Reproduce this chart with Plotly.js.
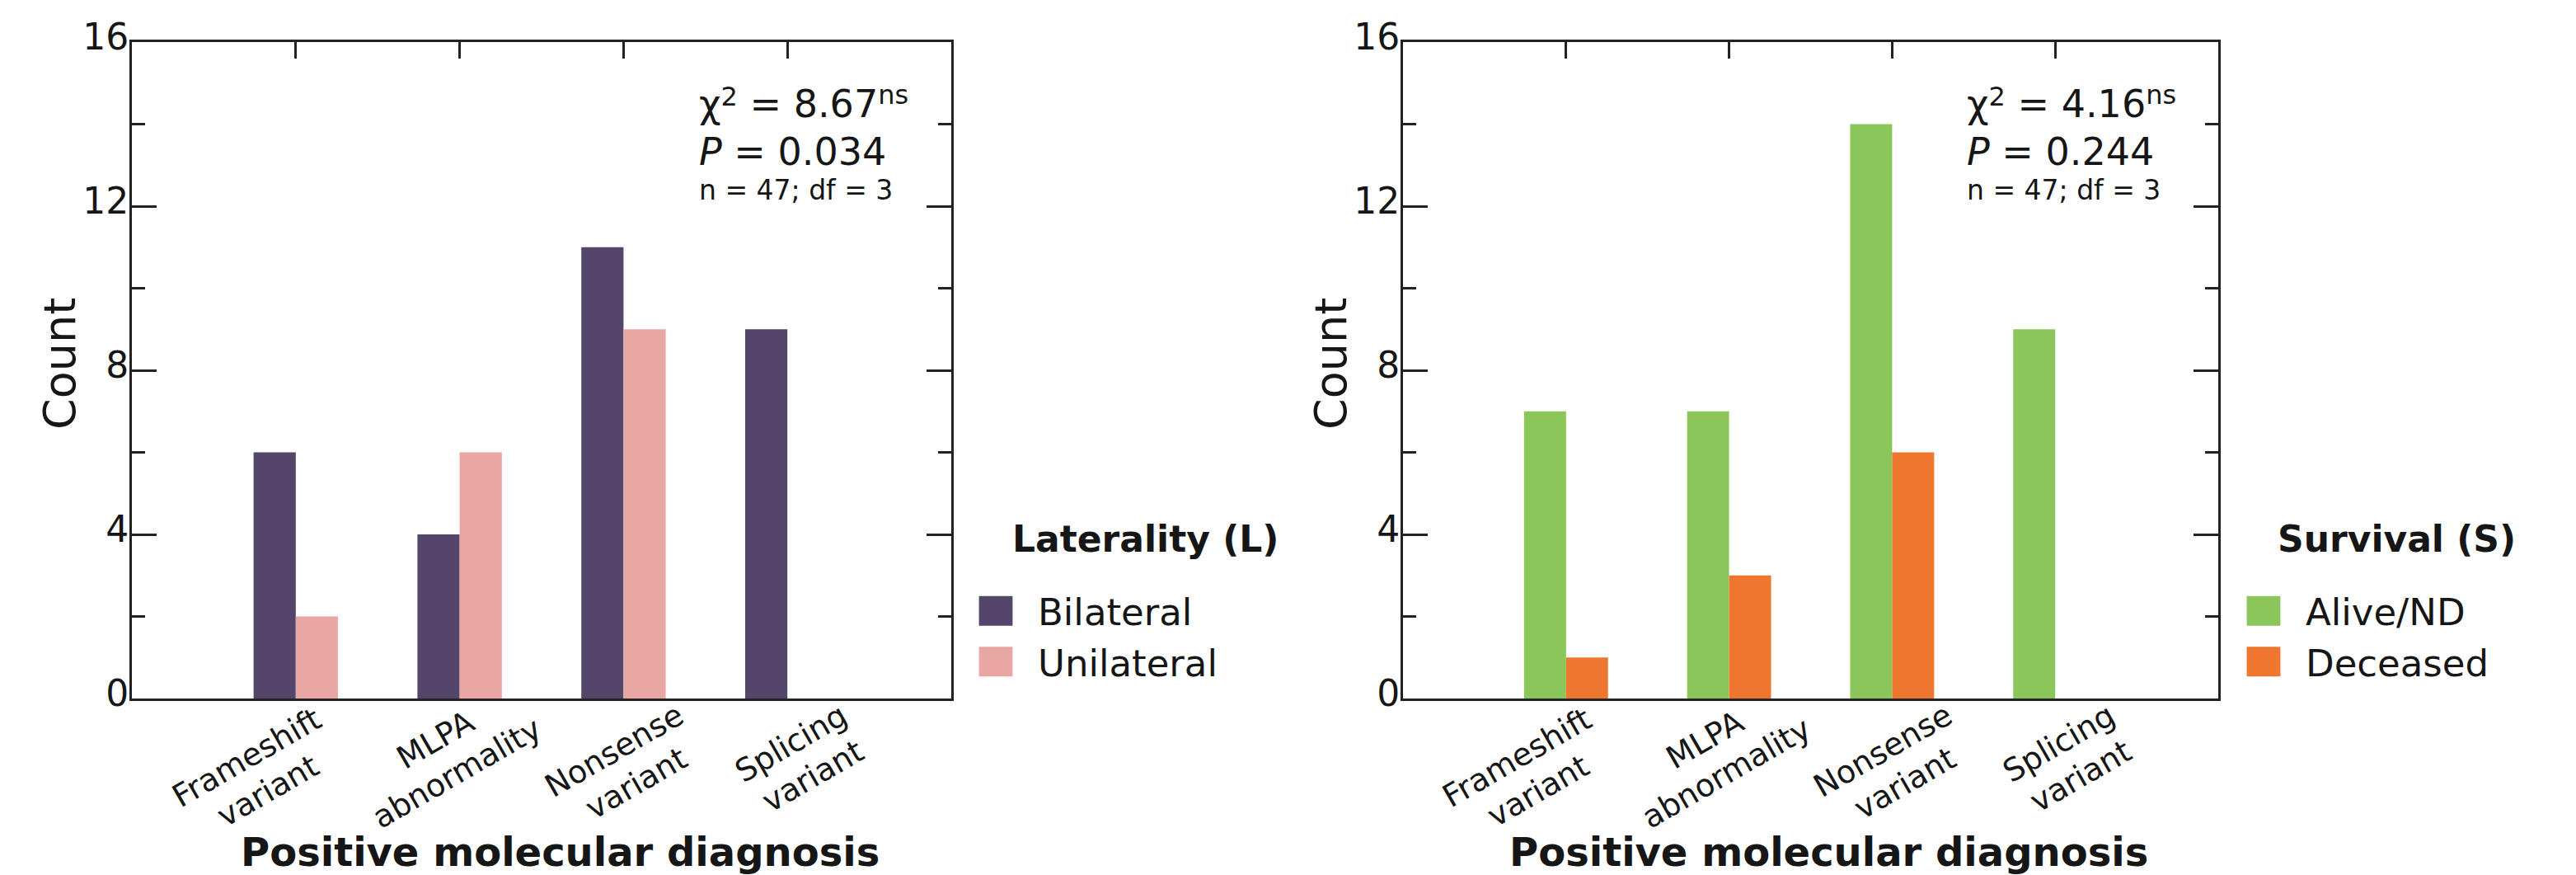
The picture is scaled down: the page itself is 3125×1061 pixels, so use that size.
<!DOCTYPE html>
<html>
<head>
<meta charset="utf-8">
<script src="https://cdn.plot.ly/plotly-3.0.1.min.js"></script>
<style>
html,body{margin:0;padding:0;background:#fff;}
#chart{width:3125px;height:1061px;}
#chart .legendpoints path{transform:translate(51px,0px) scale(3.4,3);}
</style>
</head>
<body>
<div id="chart"></div>
<script>
// ---- data ----
const categories = ['Frameshift variant', 'MLPA abnormality', 'Nonsense variant', 'Splicing variant'];
const tickLines = [['Frameshift', 'variant'], ['MLPA', 'abnormality'], ['Nonsense', 'variant'], ['Splicing', 'variant']];
const bilateral = [6, 4, 11, 9];
const unilateral = [2, 6, 9, 0];
const aliveND = [7, 7, 14, 9];
const deceased = [1, 3, 6, 0];
const yTicks = [0, 4, 8, 12, 16];
const chiLeft = '8.67', pLeft = '0.034';
const chiRight = '4.16', pRight = '0.244';
const nText = 'n = 47; df = 3';

// ---- styles ----
const FONT = 'DejaVu Sans';
const INK = '#161616';
const AX = '#222222';
const colBilateral = '#54456A';
const colUnilateral = '#E8A7A3';
const colAlive = '#8BC65B';
const colDeceased = '#EE762E';
// label block offsets (px) from its tick / the x axis line
const labelDx = [-47, -16, 2, 18];
const labelDy = [92, 70, 83, 74];
const lineStep = [13.25, 20.25];

const W = 3125, H = 1061;
const AXIS_Y = 847;
const px = v => v / W;
const py = v => 1 - v / H;
const sup = (t, shift) => '<span style="font-size:32px;baseline-shift:' + shift + 'px">' + t + '</span>';
const chiLine = v => 'χ' + sup('2', 14) + ' = ' + v + sup('ns', 16);
const pLine = v => '<i>P</i> = ' + v;

const traces = [
  {type: 'bar', name: 'Bilateral', x: categories, y: bilateral, xaxis: 'x', yaxis: 'y',
   marker: {color: colBilateral, line: {width: 0}}, legend: 'legend'},
  {type: 'bar', name: 'Unilateral', x: categories, y: unilateral, xaxis: 'x', yaxis: 'y',
   marker: {color: colUnilateral, line: {width: 0}}, legend: 'legend'},
  {type: 'bar', name: 'Alive/ND', x: categories, y: aliveND, xaxis: 'x2', yaxis: 'y2',
   marker: {color: colAlive, line: {width: 0}}, legend: 'legend2'},
  {type: 'bar', name: 'Deceased', x: categories, y: deceased, xaxis: 'x2', yaxis: 'y2',
   marker: {color: colDeceased, line: {width: 0}}, legend: 'legend2'}
];

function xAxis(domain, anchor) {
  return {
    domain: domain, anchor: anchor, type: 'category', range: [-1, 4],
    side: 'top', showticklabels: false, ticks: 'inside', ticklen: 20, tickwidth: 3, tickcolor: AX,
    showline: true, linecolor: AX, linewidth: 3, mirror: true, showgrid: false, zeroline: false,
    fixedrange: true
  };
}
function yAxis(anchor) {
  return {
    domain: [py(AXIS_Y), py(51)], anchor: anchor, range: [0, 16], tickvals: yTicks,
    ticks: 'inside', ticklen: 30, tickwidth: 3, tickcolor: AX,
    minor: {dtick: 2, tick0: 0, ticks: 'inside', ticklen: 16, tickwidth: 3, tickcolor: AX},
    showline: true, linecolor: AX, linewidth: 3, mirror: 'ticks', showgrid: false, zeroline: false,
    tickfont: {family: FONT, size: 44, color: INK},
    ticklabelstandoff: -8, ticklabelshift: -6,
    fixedrange: true
  };
}

const annotations = [];
function addPanel(xref, stats, legendTitle, legendX, countX) {
  tickLines.forEach((lines, i) => {
    lines.forEach((t, j) => {
      const s = j === 0 ? -1 : 1;
      annotations.push({xref: xref, yref: 'paper', x: categories[i],
        y: py(AXIS_Y + labelDy[i] + s * lineStep[1]), xshift: labelDx[i] + s * lineStep[0],
        text: t, textangle: -30, xanchor: 'center', yanchor: 'middle', showarrow: false,
        font: {family: FONT, size: 38, color: INK}});
    });
  });
  annotations.push({xref: xref + ' domain', yref: 'paper', x: 0.5, xshift: 22, y: py(1033),
    text: 'Positive molecular diagnosis', showarrow: false, xanchor: 'center', yanchor: 'middle',
    font: {family: FONT, size: 48, color: INK, weight: 'bold'}});
  annotations.push({xref: 'paper', yref: 'paper', x: countX, y: py(441), text: 'Count',
    textangle: -90, showarrow: false, xanchor: 'center', yanchor: 'middle',
    font: {family: FONT, size: 54, color: INK}});
  const ys = [py(155), py(212.5), py(252)];
  const sizes = [46, 46, 33];
  stats.forEach((s, i) => {
    annotations.push({xref: xref + ' domain', yref: 'paper', x: 0.69, y: ys[i], text: s,
      xanchor: 'left', yanchor: 'bottom', showarrow: false,
      font: {family: FONT, size: sizes[i], color: INK}});
  });
  annotations.push({xref: 'paper', yref: 'paper', x: legendX, y: py(653), text: legendTitle,
    xanchor: 'left', yanchor: 'middle', showarrow: false,
    font: {family: FONT, size: 44, color: INK, weight: 'bold'}});
}
addPanel('x', [chiLine(chiLeft), pLine(pLeft), nText], 'Laterality (L)', px(1226), px(72));
addPanel('x2', [chiLine(chiRight), pLine(pRight), nText], 'Survival (S)', px(2761), px(1614));

function legendCfg(x) {
  return {x: x, xanchor: 'left', y: py(705), yanchor: 'top', bgcolor: 'rgba(0,0,0,0)', borderwidth: 0,
    font: {family: FONT, size: 45, color: INK}, itemwidth: 92, traceorder: 'normal',
    itemclick: false, itemdoubleclick: false};
}

const layout = {
  width: W, height: H,
  margin: {l: 0, r: 0, t: 0, b: 0, autoexpand: false},
  paper_bgcolor: '#ffffff', plot_bgcolor: '#ffffff',
  barmode: 'group', bargap: 0.485, bargroupgap: 0,
  showlegend: true,
  xaxis: xAxis([px(160), px(1154)], 'y'),
  yaxis: yAxis('x'),
  xaxis2: xAxis([px(1702), px(2691)], 'y2'),
  yaxis2: yAxis('x2'),
  legend: legendCfg(px(1157)),
  legend2: legendCfg(px(2695)),
  annotations: annotations,
  font: {family: FONT, color: INK}
};

Plotly.newPlot('chart', traces, layout, {displayModeBar: false, staticPlot: true}).then(gd => {
  gd.querySelectorAll('text').forEach(t => {
    if (!t.textContent || !t.textContent.trim()) t.remove();
  });
});
</script>
</body>
</html>
